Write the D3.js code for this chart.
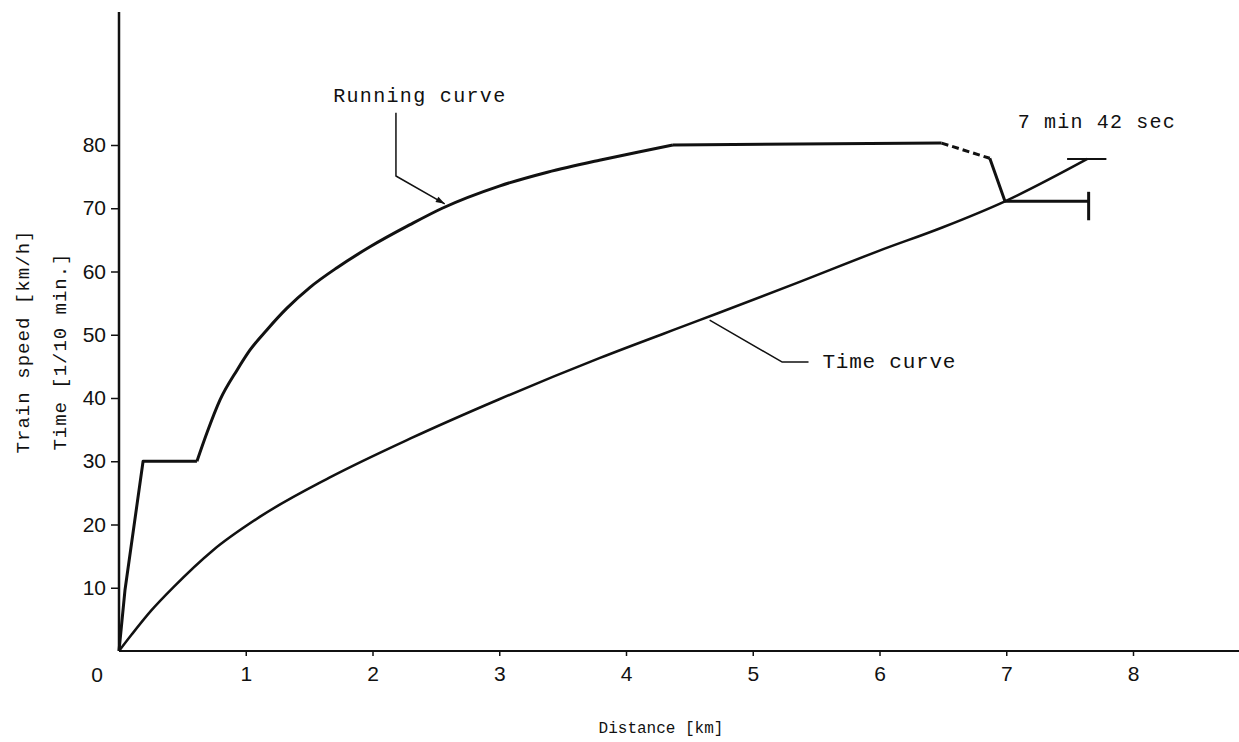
<!DOCTYPE html>
<html>
<head>
<meta charset="utf-8">
<script src="https://cdn.jsdelivr.net/npm/d3@7"></script>
<style>
  body { margin: 0; background: #fff; }
  svg { display: block; }
  .mono { font-family: "Liberation Mono", "DejaVu Sans Mono", monospace; fill: #111; }
  .tick text { font-family: "Liberation Sans", Arial, sans-serif; fill: #111; }
</style>
</head>
<body>
<div id="chart"></div>
<script>
// DATA
const xTicks = [1, 2, 3, 4, 5, 6, 7, 8];
const yTicks = [10, 20, 30, 40, 50, 60, 70, 80];

// running curve, in pieces (km, km/h)
const runStartDist   = [0, 0.047, 0.19, 0.615];
const runStartSpeed  = [0, 9.6, 30, 30];
const runAccelDist   = [0.615, 0.694, 0.797, 0.931, 1.034, 1.168, 1.325, 1.507, 1.72, 1.98, 2.296, 2.55, 3.0, 3.38, 3.79, 4.1, 4.37];
const runAccelSpeed  = [30, 34.5, 39.7, 44.4, 47.6, 50.8, 54.2, 57.5, 60.6, 63.9, 67.4, 70.0, 73.5, 75.7, 77.6, 78.9, 80];
const runCruiseDist  = [4.37, 6.49];
const runCruiseSpeed = [80, 80.3];
const coastDist      = [6.49, 6.87];
const coastSpeed     = [80.3, 77.9];
const brakeDist      = [6.87, 6.99, 7.65];
const brakeSpeed     = [77.9, 71.1, 71.1];
const stopDist       = 7.65;
const stopBar        = [68.1, 72.6];

// time curve (km, 1/10 min)
const timeDist = [0, 0.1, 0.25, 0.43, 0.74, 1.11, 1.66, 2.3, 3.0, 3.79, 4.58, 5.35, 6.0, 6.5, 6.99, 7.64];
const timeVal  = [0, 2.6, 6.3, 10.1, 15.9, 21.2, 27.4, 33.6, 39.8, 46.3, 52.3, 58.2, 63.3, 67.0, 71.1, 77.8];
const timeEndMark = [7.48, 7.79];

// annotations (data coords)
const runLeader  = [[2.185, 85.1], [2.185, 75.1], [2.57, 70.7]];
const timeLeader = [[4.66, 52.3], [5.23, 45.7], [5.44, 45.7]];

const width = 1239, height = 742;

const x = d3.scaleLinear().domain([0, 8]).range([119, 1133]);
const y = d3.scaleLinear().domain([0, 80]).range([651, 145]);

const svg = d3.select('#chart').append('svg')
    .attr('width', width)
    .attr('height', height);

svg.append('rect').attr('width', width).attr('height', height).attr('fill', '#fff');

const zip = (a, b) => a.map((d, i) => [d, b[i]]);

// AXES
const xAxis = svg.append('g')
    .attr('transform', `translate(0,${y(0)})`)
    .call(d3.axisBottom(x).tickValues(xTicks).tickSize(5).tickPadding(10).tickFormat(d3.format('d')));
xAxis.select('.domain').remove();
xAxis.selectAll('.tick line').attr('stroke', '#111').attr('stroke-width', 1.5);
xAxis.selectAll('.tick text').style('font-size', '21px');

svg.append('line')
    .attr('x1', x(0)).attr('x2', width)
    .attr('y1', y(0)).attr('y2', y(0))
    .attr('stroke', '#111').attr('stroke-width', 2);

const yAxis = svg.append('g')
    .attr('transform', `translate(${x(0)},0)`)
    .call(d3.axisLeft(y).tickValues(yTicks).tickSize(8).tickPadding(5));
yAxis.select('.domain').remove();
yAxis.selectAll('.tick line').attr('stroke', '#111').attr('stroke-width', 1.5);
yAxis.selectAll('.tick text').style('font-size', '21px');

svg.append('line')
    .attr('x1', x(0)).attr('x2', x(0))
    .attr('y1', y(0)).attr('y2', 12)
    .attr('stroke', '#111').attr('stroke-width', 2.5);

svg.append('text')
    .attr('x', x(0) - 22).attr('y', y(0) + 31)
    .attr('text-anchor', 'middle')
    .style('font-family', '"Liberation Sans", Arial, sans-serif')
    .style('font-size', '21px')
    .attr('fill', '#111')
    .text('0');

// CURVES
const line = d3.line().x(d => x(d[0])).y(d => y(d[1]));
const smooth = d3.line().x(d => x(d[0])).y(d => y(d[1])).curve(d3.curveMonotoneX);

function draw(gen, pts, w, dash) {
    svg.append('path')
        .attr('d', gen(pts))
        .attr('fill', 'none')
        .attr('stroke', '#111')
        .attr('stroke-width', w)
        .attr('stroke-linejoin', 'round')
        .attr('stroke-dasharray', dash || null);
}

draw(line, zip(runStartDist, runStartSpeed), 3);
draw(smooth, zip(runAccelDist, runAccelSpeed), 3);
draw(line, zip(runCruiseDist, runCruiseSpeed), 3);
draw(line, zip(coastDist, coastSpeed), 3, '7,4');
draw(line, zip(brakeDist, brakeSpeed), 3);
draw(line, [[stopDist, stopBar[0]], [stopDist, stopBar[1]]], 3);

draw(smooth, zip(timeDist, timeVal), 2.5);
draw(line, timeEndMark.map(d => [d, timeVal[timeVal.length - 1]]), 2);

// leaders
draw(line, runLeader, 1.5);
draw(line, timeLeader, 1.5);

function arrowHead(pts) {
    const [a, b] = pts.slice(-2).map(p => [x(p[0]), y(p[1])]);
    const ang = Math.atan2(b[1] - a[1], b[0] - a[0]);
    const len = 9, half = 3;
    const p1 = [b[0] - len * Math.cos(ang) + half * Math.sin(ang), b[1] - len * Math.sin(ang) - half * Math.cos(ang)];
    const p2 = [b[0] - len * Math.cos(ang) - half * Math.sin(ang), b[1] - len * Math.sin(ang) + half * Math.cos(ang)];
    svg.append('path')
        .attr('d', `M${b[0]},${b[1]}L${p1[0]},${p1[1]}L${p2[0]},${p2[1]}Z`)
        .attr('fill', '#111');
}
arrowHead(runLeader);

// LABELS
function label(txt, d, v, len, size) {
    svg.append('text')
        .attr('class', 'mono')
        .attr('x', x(d)).attr('y', y(v))
        .attr('textLength', len)
        .attr('lengthAdjust', 'spacing')
        .style('font-size', size + 'px')
        .text(txt);
}
label('Running curve', 1.69, 86.8, 172, 20);
label('Time curve', 5.55, 44.7, 133, 21);
label('7 min 42 sec', 7.09, 82.7, 157, 20);

svg.append('text')
    .attr('class', 'mono')
    .attr('x', 661).attr('y', 733)
    .attr('text-anchor', 'middle')
    .style('font-size', '16px')
    .text('Distance [km]');

svg.append('text')
    .attr('class', 'mono')
    .attr('transform', 'translate(29,342) rotate(-90)')
    .attr('text-anchor', 'middle')
    .attr('textLength', 223)
    .attr('lengthAdjust', 'spacing')
    .style('font-size', '19px')
    .text('Train speed [km/h]');

svg.append('text')
    .attr('class', 'mono')
    .attr('transform', 'translate(66,352) rotate(-90)')
    .attr('text-anchor', 'middle')
    .attr('textLength', 197)
    .attr('lengthAdjust', 'spacing')
    .style('font-size', '19px')
    .text('Time [1/10 min.]');
</script>
</body>
</html>
